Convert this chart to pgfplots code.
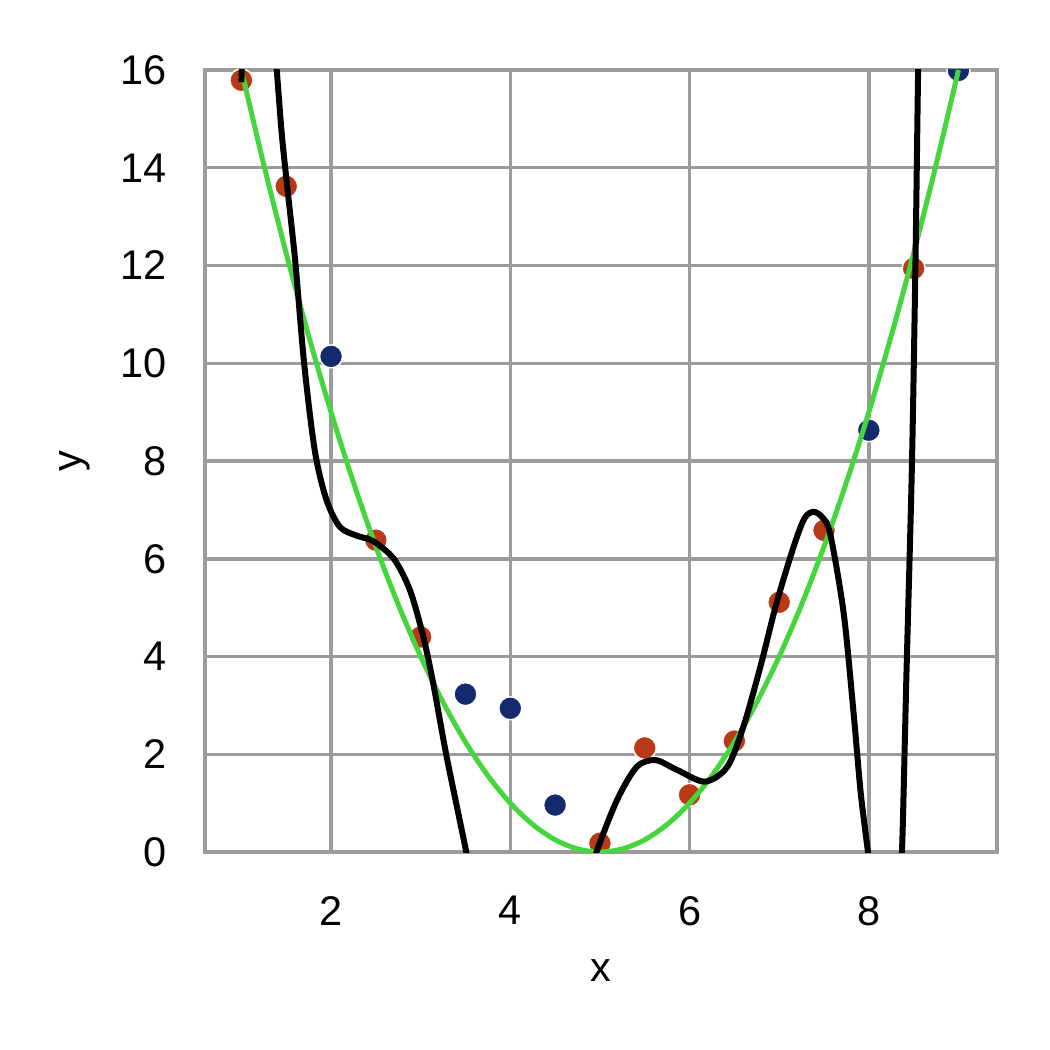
\documentclass[border=0pt]{standalone}
\usepackage{fontspec}
\setmainfont{Liberation Sans}
\usepackage{pgfplots}
\pgfplotsset{compat=1.18}

\definecolor{ptred}{RGB}{185,58,22}
\definecolor{ptblue}{RGB}{20,42,110}
\definecolor{fitgreen}{RGB}{68,214,60}
\definecolor{gridgray}{RGB}{155,155,155}

\begin{document}
\begin{tikzpicture}
\path[use as bounding box] (-2.05,-1.98) rectangle (8.45,8.52);
\begin{axis}[
    at={(0,0)}, anchor=south west,
    scale only axis,
    width=7.92cm, height=7.82cm,
    xmin=0.594, xmax=9.43,
    ymin=0, ymax=16,
    xtick={2,4,6,8},
    ytick={0,2,...,16},
    grid=major,
    grid style={gridgray, line width=0.035cm},
    axis line style={gridgray, line width=0.045cm},
    tick style={draw=none},
    major tick length=0pt,
    font=\fontsize{11.8}{14}\selectfont,
    /pgf/number format/assume math mode=true,
    yticklabel style={xshift=-0.26cm},
    xticklabel style={yshift=-0.32cm},
    xlabel={x}, ylabel={y},
    xlabel style={at={(axis description cs:0.5,-0.151)}, anchor=center},
    ylabel style={at={(axis description cs:-0.164,0.5)}, anchor=center},
    clip marker paths=true,
]
% noisy samples
\addplot[only marks, mark=*, mark size=0.115cm,
    mark options={fill=ptred, draw=white, line width=0.4pt}] coordinates {
    (1,15.79) (1.5,13.62) (2.5,6.38) (3,4.40) (5,0.18) (5.5,2.13)
    (6,1.17) (6.5,2.27) (7,5.11) (7.5,6.58) (8.5,11.94)
};
\addplot[only marks, mark=*, mark size=0.115cm,
    mark options={fill=ptblue, draw=white, line width=0.4pt}] coordinates {
    (2,10.14) (3.5,3.23) (4,2.94) (4.5,0.96) (8,8.63) (9,15.99)
};
% true curve
\addplot[fitgreen, line width=0.05cm, smooth] coordinates {
    (1,16) (1.25,14.0625) (1.5,12.25) (1.75,10.5625) (2,9) (2.25,7.5625)
    (2.5,6.25) (2.75,5.0625) (3,4) (3.25,3.0625) (3.5,2.25) (3.75,1.5625)
    (4,1) (4.25,0.5625) (4.5,0.25) (4.75,0.0625) (5,0) (5.25,0.0625)
    (5.5,0.25) (5.75,0.5625) (6,1) (6.25,1.5625) (6.5,2.25) (6.75,3.0625)
    (7,4) (7.25,5.0625) (7.5,6.25) (7.75,7.5625) (8,9) (8.25,10.5625)
    (8.5,12.25) (8.75,14.0625) (9,16)
};
% overfitted polynomial
\addplot[black, line width=0.06cm, smooth] coordinates {
    (1.0,15.75) (1.05,18) (1.15,19) (1.3,18) (1.394,16.0) (1.45,14.7)
    (1.512,13.6) (1.6,12.1) (1.7,10.0) (1.82,8.2) (1.95,7.2) (2.1,6.65)
    (2.29,6.47) (2.47,6.36) (2.7,6.0) (2.88,5.36) (3.03,4.40) (3.14,3.45)
    (3.29,1.95) (3.5,0.08) (3.6,-0.9) (3.8,-2.5) (4.2,-4) (4.6,-2.5)
    (4.85,-0.7) (4.97,0.04) (5.19,1.06) (5.41,1.74) (5.62,1.88) (5.86,1.68)
    (6.17,1.44) (6.42,1.74) (6.6,2.56) (6.79,3.79) (6.97,5.09) (7.16,6.24)
    (7.28,6.82) (7.38,6.96) (7.48,6.85) (7.57,6.50) (7.72,4.88) (7.83,2.84)
    (7.91,1.2) (7.99,0) (8.05,-1) (8.18,-2.3) (8.33,-1.0) (8.37,0)
    (8.42,3.66) (8.48,7.85) (8.52,12.03) (8.55,16) (8.58,19)
};
\end{axis}
\end{tikzpicture}
\end{document}
